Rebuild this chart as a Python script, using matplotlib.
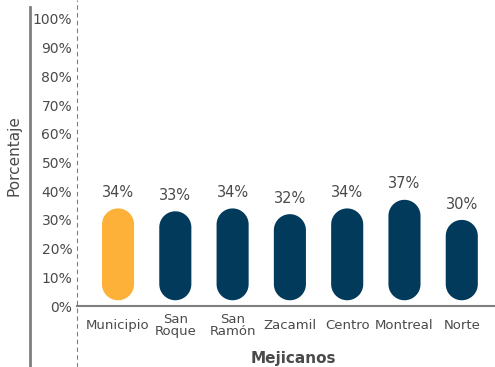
import numpy as np
import matplotlib
matplotlib.use("Agg")
import matplotlib.pyplot as plt
from matplotlib.patches import Polygon
from matplotlib.lines import Line2D

# data
categories = ["Municipio", "San\nRoque", "San\nRamón", "Zacamil", "Centro", "Montreal", "Norte"]
values = [34, 33, 34, 32, 34, 37, 30]
bar_colors = ["#FDB138", "#023A5C", "#023A5C", "#023A5C", "#023A5C", "#023A5C", "#023A5C"]
yticks = list(range(0, 101, 10))

W, H = 495, 367
fig = plt.figure(figsize=(W / 100, H / 100), dpi=100)
ax = fig.add_axes([77 / W, 1 - 306 / H, 1 - 77 / W, 306 / H])

px_per_pct = 2.87
ax.set_ylim(0, 306 / px_per_pct)
ax.set_xlim(-0.716, 6.58)

# pill-shaped bars: one polygon with semicircular ends, scaled to data units
fig.canvas.draw()
p0 = ax.transData.transform((0, 0))
p1 = ax.transData.transform((1, 1))
aspect = (p1[0] - p0[0]) / (p1[1] - p0[1])
width = 0.56
rx = width / 2
ry = rx * aspect
base = 2
t_top = np.linspace(0, np.pi, 40)
t_bot = np.linspace(np.pi, 2 * np.pi, 40)
for i, (v, c) in enumerate(zip(values, bar_colors)):
    top = np.column_stack([i + rx * np.cos(t_top), v - ry + ry * np.sin(t_top)])
    bot = np.column_stack([i + rx * np.cos(t_bot), base + ry + ry * np.sin(t_bot)])
    ax.add_patch(Polygon(np.vstack([top, bot]), closed=True, facecolor=c, edgecolor="none"))
    ax.annotate(f"{v}%", (i, v), xytext=(0, 6), textcoords="offset points",
                ha="center", va="bottom", fontsize=10.5, color="#4a4a4a")

ax.set_xticks(range(len(categories)))
ax.set_xticklabels(categories, fontsize=9.5, color="#4a4a4a", linespacing=0.9)
for lab in ax.get_xticklabels():
    lab.set_va("center")
ax.tick_params(axis="x", length=0, pad=14)

ax.set_yticks(yticks)
ax.set_yticklabels([f"{t}%" for t in yticks], fontsize=10, color="#4a4a4a")
ax.tick_params(axis="y", length=0, pad=3.5)

for s in ["top", "right", "left"]:
    ax.spines[s].set_visible(False)
ax.spines["bottom"].set_color("#7f7f7f")
ax.spines["bottom"].set_linewidth(1.5)

ax.set_xlabel("Mejicanos", fontsize=11, fontweight="bold", color="#4a4a4a")
ax.xaxis.set_label_coords((293 - 77) / (W - 77), -(358 - 306) / 306)
ax.xaxis.label.set_va("center")

fig.text(14 / W, 1 - 156 / H, "Porcentaje", rotation=90, ha="center", va="center",
         fontsize=11, color="#4a4a4a")

# frame lines: dashed value axis and solid separator on the left
fig.add_artist(Line2D([77 / W, 77 / W], [0, 1], transform=fig.transFigure,
                      color="#7f7f7f", lw=0.8, ls=(0, (4, 3))))
fig.add_artist(Line2D([30 / W, 30 / W], [0, 1 - 7 / H], transform=fig.transFigure,
                      color="#7f7f7f", lw=2))

fig.savefig("out.png", dpi=100)
